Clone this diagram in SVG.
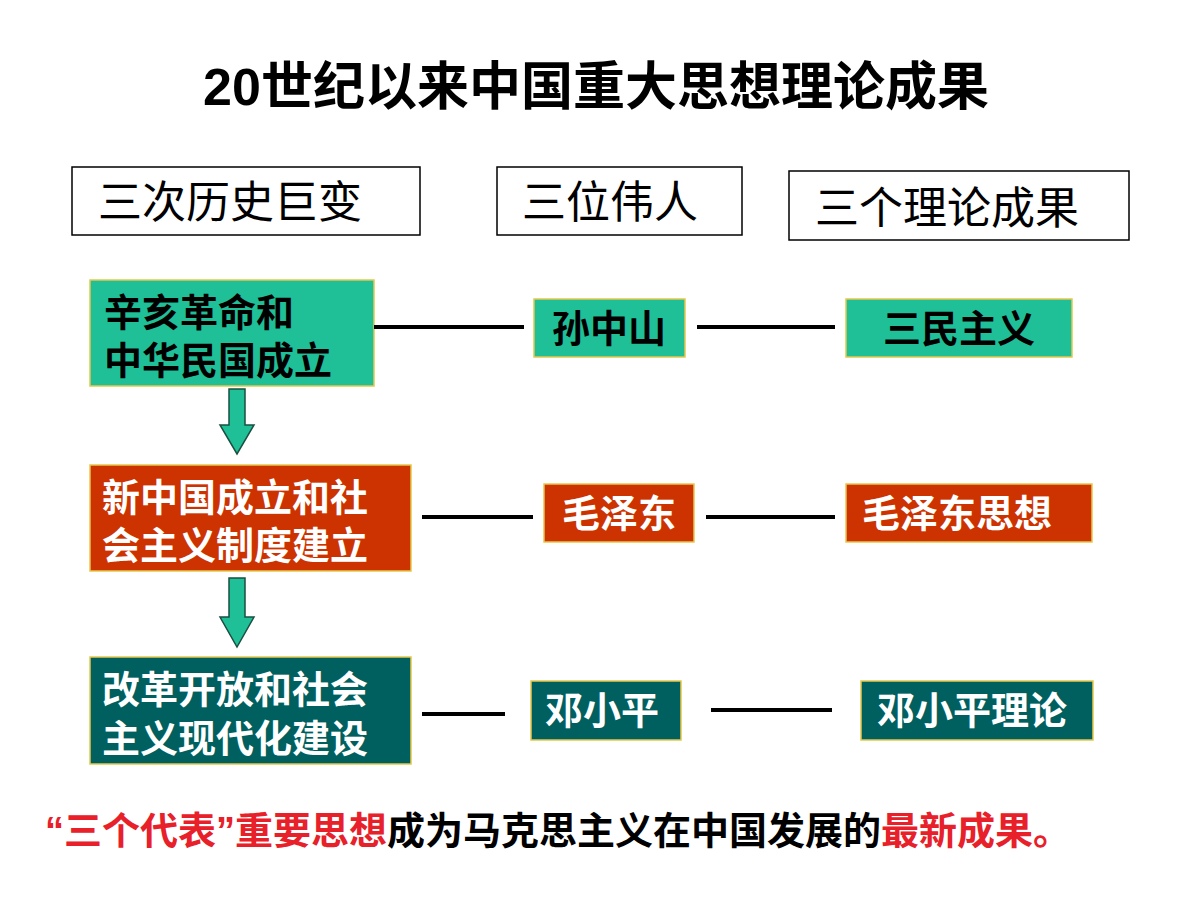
<svg xmlns="http://www.w3.org/2000/svg" width="1200" height="900" viewBox="0 0 1200 900">
<style>
text{font-family:"Liberation Sans","Noto Sans CJK SC",sans-serif;font-weight:bold}
.hd{fill:#fff;stroke:#000;stroke-width:1.5}
.ht{font-size:44px;font-weight:normal;fill:#000}
.t{font-size:38px}
.g{fill:#1FBF98;stroke:#E6C84A;stroke-width:1.5}
.r{fill:#CC3300;stroke:#E6C84A;stroke-width:1.5}
.d{fill:#006060;stroke:#E6C84A;stroke-width:1.5}
.ln{stroke:#000;stroke-width:4}
.ar{fill:#1FBF98;stroke:#1A5040;stroke-width:1.5}
</style>
<rect width="1200" height="900" fill="#fff"/>
<text x="596" y="105" text-anchor="middle" font-size="52" font-weight="normal">20世纪以来中国重大思想理论成果</text>
<g id="h1"><rect class="hd" x="72" y="167" width="348" height="68"/><text class="ht" x="98" y="218">三次历史巨变</text></g>
<g id="h2"><rect class="hd" x="497" y="167" width="245" height="68"/><text class="ht" x="522" y="218">三位伟人</text></g>
<g id="h3"><rect class="hd" x="789" y="171" width="340" height="69"/><text class="ht" x="815" y="224">三个理论成果</text></g>
<g id="e1"><rect class="g" x="90" y="280" width="284" height="106"/><text class="t" x="104" y="326">辛亥革命和</text><text class="t" x="104" y="374">中华民国成立</text></g>
<g id="p1"><rect class="g" x="534" y="299" width="151" height="58"/><text class="t" x="609" y="342" text-anchor="middle">孙中山</text></g>
<g id="c1"><rect class="g" x="846" y="299" width="226" height="58"/><text class="t" x="959" y="342" text-anchor="middle">三民主义</text></g>
<g id="e2"><rect class="r" x="90" y="465" width="321" height="106"/><text class="t" x="102" y="511" fill="#fff">新中国成立和社</text><text class="t" x="102" y="559" fill="#fff">会主义制度建立</text></g>
<g id="p2"><rect class="r" x="544" y="484" width="150" height="58"/><text class="t" x="619" y="527" text-anchor="middle" fill="#fff">毛泽东</text></g>
<g id="c2"><rect class="r" x="846" y="484" width="246" height="58"/><text class="t" x="957" y="527" text-anchor="middle" fill="#fff">毛泽东思想</text></g>
<g id="e3"><rect class="d" x="90" y="657" width="321" height="107"/><text class="t" x="102" y="703" fill="#fff">改革开放和社会</text><text class="t" x="102" y="752" fill="#fff">主义现代化建设</text></g>
<g id="p3"><rect class="d" x="531" y="681" width="150" height="59"/><text class="t" x="602" y="724" text-anchor="middle" fill="#fff">邓小平</text></g>
<g id="c3"><rect class="d" x="861" y="681" width="232" height="59"/><text class="t" x="972" y="724" text-anchor="middle" fill="#fff">邓小平理论</text></g>
<g id="connectors">
<line class="ln" x1="374" y1="327" x2="524" y2="327"/><line class="ln" x1="697" y1="327" x2="835" y2="327"/>
<line class="ln" x1="422" y1="517" x2="533" y2="517"/><line class="ln" x1="706" y1="517" x2="835" y2="517"/>
<line class="ln" x1="422" y1="714" x2="505" y2="714"/><line class="ln" x1="711" y1="710" x2="832" y2="710"/>
<path class="ar" d="M229,389 H245 V425 H254 L237,454 L220,425 H229 Z"/>
<path class="ar" d="M229,578 H245 V617 H254 L237,647 L220,617 H229 Z"/>
</g>
<text x="45" y="844" font-size="38"><tspan fill="#E8202A">“三个代表”重要思想</tspan><tspan fill="#000">成为马克思主义在中国发展的</tspan><tspan fill="#E8202A">最新成果。</tspan></text>
</svg>
